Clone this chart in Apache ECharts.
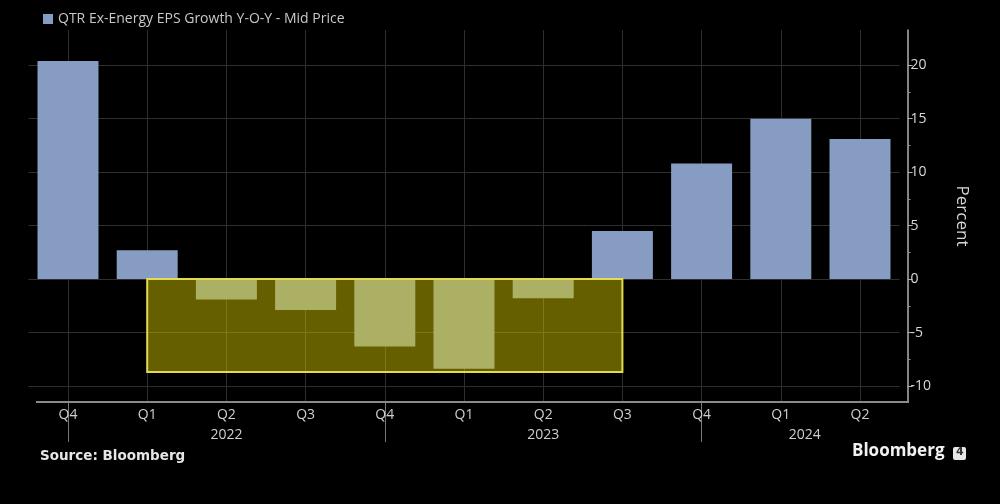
<!DOCTYPE html>
<html>
<head>
<meta charset="utf-8">
<script src="https://cdn.jsdelivr.net/npm/echarts@6/dist/echarts.min.js"></script>
<style>
html,body{margin:0;padding:0;background:#000;}
#chart{width:1000px;height:504px;}
</style>
</head>
<body>
<div id="chart"></div>
<script>
// ---- data ----
var categories = ['Q4 2021','Q1 2022','Q2 2022','Q3 2022','Q4 2022','Q1 2023','Q2 2023','Q3 2023','Q4 2023','Q1 2024','Q2 2024'];
var epsGrowth = [20.4, 2.7, -1.9, -2.9, -6.3, -8.4, -1.8, 4.5, 10.8, 15.0, 13.1];
var seriesName = 'QTR Ex-Energy EPS Growth Y-O-Y - Mid Price';
var yTickLabels = [-10, -5, 0, 5, 10, 15, 20];
var yMinorTicks = [-7.5, -2.5, 2.5, 7.5, 12.5, 17.5];
var yMin = -11.5, yMax = 23.3;
var highlightStart = 'Q1 2022', highlightEnd = 'Q3 2023', highlightTop = 0, highlightBottom = -8.7;
var yearLabelAt = {'Q2 2022': '2022', 'Q2 2023': '2023', 'Q1 2024': '2024'};
var yearShiftRight = {'Q1 2024': true};

var font = '"Open Sans", "DejaVu Sans", sans-serif';
var chart = echarts.init(document.getElementById('chart'), null, {renderer: 'canvas'});

var highlightData = [[categories.indexOf(highlightStart), categories.indexOf(highlightEnd), highlightTop, highlightBottom]];

chart.setOption({
  backgroundColor: '#000',
  animation: false,
  textStyle: {fontFamily: font},
  legend: {
    show: true, left: 38, top: 7, icon: 'rect', itemWidth: 10, itemHeight: 10, itemGap: 4,
    textStyle: {color: '#c8c8c8', fontSize: 14, fontFamily: font},
    data: [seriesName]
  },
  grid: {left: 28.4, right: 100.4, top: 30, bottom: 102, containLabel: false},
  xAxis: {
    type: 'category',
    data: categories,
    axisLine: {show: false, onZero: false},
    axisTick: {
      show: true, alignWithLabel: true, length: 40,
      interval: function (i) { return categories[i].indexOf('Q4') === 0; },
      lineStyle: {color: '#777', width: 1}
    },
    splitLine: {show: true, alignWithLabel: true, lineStyle: {color: '#2e2e2e', width: 1}},
    axisLabel: {
      color: '#cfcfcf', fontSize: 14, margin: 3, interval: 0, lineHeight: 20,
      formatter: function (v) {
        var q = v.split(' ')[0];
        if (yearLabelAt[v]) {
          return q + '\n' + (yearShiftRight[v] ? '{ys|' + yearLabelAt[v] + '}' : '{y|' + yearLabelAt[v] + '}');
        }
        return q;
      },
      rich: {
        y: {color: '#cfcfcf', fontSize: 14, lineHeight: 20},
        ys: {color: '#cfcfcf', fontSize: 14, lineHeight: 20, padding: [0, 0, 0, 48]}
      }
    }
  },
  yAxis: [{
    type: 'value', position: 'right', offset: 8,
    min: yMin, max: yMax,
    name: 'Percent', nameLocation: 'middle', nameRotate: -90, nameGap: 46,
    nameTextStyle: {color: '#d8d8d8', fontSize: 17, fontFamily: font},
    axisLine: {show: true, lineStyle: {color: '#b0b0b0', width: 1.5}},
    axisTick: {show: true, length: 5, customValues: yTickLabels, lineStyle: {color: '#b0b0b0'}},
    axisLabel: {color: '#d8d8d8', fontSize: 14, margin: 3, customValues: yTickLabels},
    splitLine: {show: true, lineStyle: {color: '#2e2e2e', width: 1}}
  }, {
    type: 'value', position: 'right', offset: 8,
    min: yMin, max: yMax,
    axisLine: {show: false},
    axisTick: {show: true, length: 3, customValues: yMinorTicks, lineStyle: {color: '#909090'}},
    axisLabel: {show: false},
    splitLine: {show: false}
  }],
  series: [{
    name: seriesName,
    type: 'bar',
    data: epsGrowth,
    barCategoryGap: '23%',
    itemStyle: {color: '#869cc2'},
    z: 2
  }, {
    name: 'highlight',
    type: 'custom',
    z: 5,
    silent: true,
    data: highlightData,
    encode: {x: [0, 1], y: [2, 3]},
    renderItem: function (params, api) {
      var p0 = api.coord([api.value(0), api.value(2)]);
      var p1 = api.coord([api.value(1), api.value(3)]);
      return {
        type: 'rect',
        shape: {x: p0[0], y: p0[1], width: p1[0] - p0[0], height: p1[1] - p0[1]},
        style: {fill: 'rgba(214,198,0,0.48)', stroke: '#e2da50', lineWidth: 2}
      };
    }
  }],
  graphic: [
    {type: 'line', z: 10, shape: {x1: 36, y1: 402, x2: 909, y2: 402}, style: {stroke: '#8a8a8a', lineWidth: 2}},
    {type: 'text', left: 40, top: 449, style: {text: 'Source: Bloomberg', fill: '#e6e6e6', font: 'bold 13.5px "DejaVu Sans", sans-serif'}},
    {type: 'text', left: 852, top: 443, style: {text: 'Bloomberg', fill: '#f2f2f2', font: 'bold 17px "Open Sans", "DejaVu Sans", sans-serif'}},
    {type: 'rect', left: 953, top: 447, shape: {width: 13, height: 13, r: 2}, style: {fill: '#e8e8e8'}},
    {type: 'text', left: 956, top: 447, style: {text: '4', fill: '#333', font: 'bold 11px "DejaVu Sans", sans-serif'}}
  ]
});
</script>
</body>
</html>
